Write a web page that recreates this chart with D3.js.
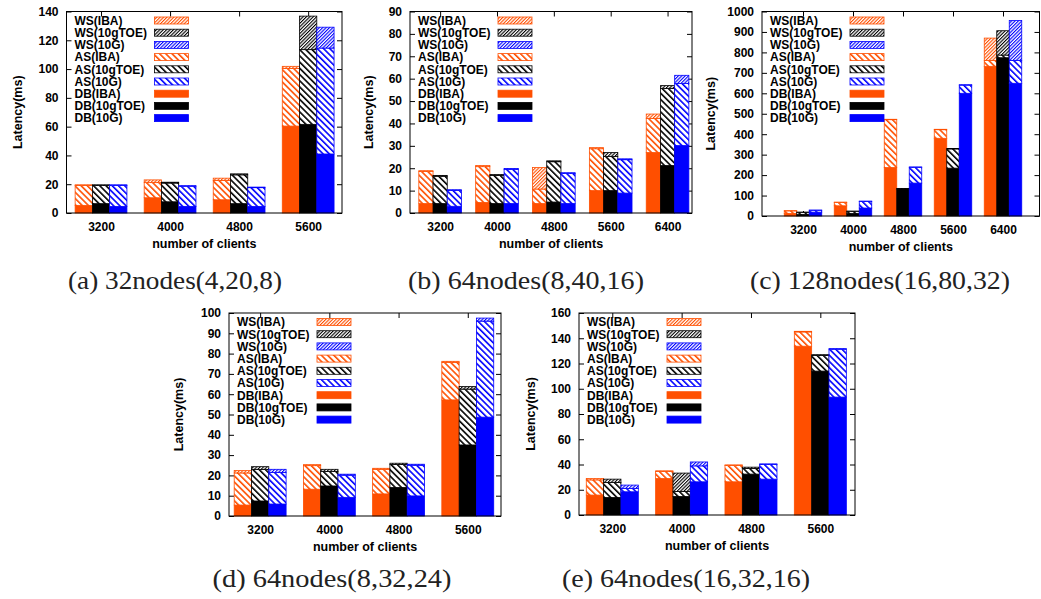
<!DOCTYPE html>
<html>
<head>
<meta charset="utf-8">
<script src="https://cdn.jsdelivr.net/npm/d3@7/dist/d3.min.js"></script>
<style>
body { margin: 0; background: #fff; }
svg text { font-family: "Liberation Sans", Arial, sans-serif; font-weight: bold; fill: #000; }
</style>
</head>
<body>
<div id="chart"></div>
<script>
var width = 1041;
var height = 599;

// networks, in bar order inside each group
var networks = ["IBA", "10gTOE", "10G"];
var colors = ["#ff4f00", "#000000", "#0000ff"];
var tiers = ["DB", "AS", "WS"];

// (a) 32nodes(4,20,8)   rows: IBA, 10gTOE, 10G
var clientsA = ["3200", "4000", "4800", "5600"];
var dbA = [[5.3, 10.6, 9.2, 60.4], [6.5, 7.8, 6.5, 61.6], [4.6, 4.6, 4.6, 41]];
var asA = [[13.8, 10.5, 13.4, 40], [12.6, 13, 20, 51.9], [14.5, 14, 13, 73.6]];
var wsA = [[0.5, 1.9, 1.6, 1.5], [0.5, 0.6, 0.7, 23.3], [0.5, 0.4, 0.4, 14.5]];

// (b) 64nodes(8,40,16)
var clientsB = ["3200", "4000", "4800", "5600", "6400"];
var dbB = [[4.2, 4.7, 4.2, 10, 27], [4.2, 4.2, 4.9, 10, 21.2], [3, 4.2, 4.2, 8.9, 30.1]];
var asB = [[14.3, 16, 6.5, 18.7, 15.2], [12.2, 12.6, 18, 15.2, 34.4], [7.1, 15.3, 13.4, 14.9, 27.7]];
var wsB = [[0.4, 0.5, 9.6, 0.5, 2], [0.4, 0.4, 0.4, 1.8, 1.3], [0.3, 0.4, 0.4, 0.4, 3.7]];

// (c) 128nodes(16,80,32)
var clientsC = ["3200", "4000", "4800", "5600", "6400"];
var dbC = [[13, 50, 237, 380, 732], [8, 13, 132, 234, 774], [19, 39, 161, 600, 649]];
var asC = [[12, 16, 234, 42, 29], [10, 10, 2, 94, 13], [9, 32, 77, 40, 112]];
var wsC = [[1, 2, 2, 2, 109], [1, 1, 1, 2, 119], [1, 2, 2, 2, 195]];

// (d) 64nodes(8,32,24)
var clientsD = ["3200", "4000", "4800", "5600"];
var dbD = [[5.4, 13.2, 10.9, 57.2], [7.4, 14.8, 14.1, 35], [5.9, 9.2, 9.9, 48.7]];
var asD = [[15.8, 11.6, 12.1, 18.5], [15.5, 7.1, 11.3, 27.5], [15.5, 10.9, 15.1, 47.3]];
var wsD = [[1.2, 0.5, 0.5, 0.5], [1.4, 1.1, 0.6, 1.3], [1.6, 0.5, 0.5, 1.5]];

// (e) 64nodes(16,32,16)
var clientsE = ["3200", "4000", "4800", "5600"];
var dbE = [[15.8, 28.9, 26.3, 133.7], [13.9, 14.7, 32.4, 114], [18.4, 26.3, 28.4, 93.4]];
var asE = [[12, 5.6, 12.9, 11.3], [11.9, 4, 4.5, 12.3], [2.6, 12.6, 11.6, 37.9]];
var wsE = [[1.1, 0.5, 0.5, 0.5], [2.6, 14.5, 1, 0.7], [2.7, 3.1, 0.5, 0.5]];

var panels = [
    {clients: clientsA, db: dbA, as: asA, ws: wsA, ymax: 140, ystep: 20,
     caption: "(a) 32nodes(4,20,8)", box: [66.5, 11.5, 342, 213], xdom: [-0.5, 3.49],
     ylabX: 17, capX: 175, capY: 289, capW: 214},
    {clients: clientsB, db: dbB, as: asB, ws: wsB, ymax: 90, ystep: 10,
     caption: "(b) 64nodes(8,40,16)", box: [410, 11.5, 692, 213], xdom: [-0.53, 4.43],
     ylabX: 368, capX: 526, capY: 289, capW: 236},
    {clients: clientsC, db: dbC, as: asC, ws: wsC, ymax: 1000, ystep: 100,
     caption: "(c) 128nodes(16,80,32)", box: [762, 11.5, 1039.5, 216], xdom: [-0.82, 4.73],
     ylabX: 710, capX: 880, capY: 289, capW: 260},
    {clients: clientsD, db: dbD, as: asD, ws: wsD, ymax: 100, ystep: 10,
     caption: "(d) 64nodes(8,32,24)", box: [229, 313, 501, 516], xdom: [-0.45, 3.48],
     ylabX: 178, capX: 332, capY: 587, capW: 239},
    {clients: clientsE, db: dbE, as: asE, ws: wsE, ymax: 160, ystep: 20,
     caption: "(e) 64nodes(16,32,16)", box: [579, 313, 855, 515], xdom: [-0.48, 3.5],
     ylabX: 530, capX: 686, capY: 587, capW: 248}
];

var svg = d3.select("#chart")
    .append("svg")
    .attr("width", width)
    .attr("height", height);

// hatch patterns: AS = wide "\\\", WS = dense "///"
var defs = svg.append("defs");
colors.forEach(function (c, i) {
    var pa = defs.append("pattern")
        .attr("id", "as" + i)
        .attr("patternUnits", "userSpaceOnUse")
        .attr("width", 4.4).attr("height", 4.4)
        .attr("patternTransform", "rotate(-45)");
    pa.append("rect").attr("width", 4.4).attr("height", 4.4).attr("fill", "#fff");
    pa.append("rect").attr("width", 1.6).attr("height", 4.4).attr("fill", c);

    var pw = defs.append("pattern")
        .attr("id", "ws" + i)
        .attr("patternUnits", "userSpaceOnUse")
        .attr("width", 2.4).attr("height", 2.4)
        .attr("patternTransform", "rotate(45)");
    pw.append("rect").attr("width", 2.4).attr("height", 2.4).attr("fill", "#fff");
    pw.append("rect").attr("width", 1.1).attr("height", 2.4).attr("fill", c);
});

function tierFill(tier, s) {
    if (tier === "DB") return colors[s];
    return "url(#" + (tier === "AS" ? "as" : "ws") + s + ")";
}

function drawPanel(p) {
    var x0 = p.box[0], y0 = p.box[1], x1 = p.box[2], y1 = p.box[3];
    var g = svg.append("g");

    var x = d3.scaleLinear().domain(p.xdom).range([x0, x1]);
    var y = d3.scaleLinear().domain([0, p.ymax]).range([y1, y0]);
    var yt = d3.range(0, p.ymax + p.ystep / 2, p.ystep);
    var idx = d3.range(p.clients.length);
    var bw = x(0.25) - x(0);

    // bottom ticks + labels (bars are drawn on top)
    var xb = g.append("g")
        .attr("transform", "translate(0," + y1 + ")")
        .call(d3.axisBottom(x).tickValues(idx).tickFormat(function (i) { return p.clients[i]; })
            .tickSize(-5).tickPadding(9));
    var xt = g.append("g")
        .attr("transform", "translate(0," + y0 + ")")
        .call(d3.axisTop(x).tickValues(idx).tickFormat("").tickSize(-5));
    var yl = g.append("g")
        .attr("transform", "translate(" + x0 + ",0)")
        .call(d3.axisLeft(y).tickValues(yt).tickFormat(d3.format("d")).tickSize(-5).tickPadding(8));
    var yr = g.append("g")
        .attr("transform", "translate(" + x1 + ",0)")
        .call(d3.axisRight(y).tickValues(yt).tickFormat("").tickSize(-5));
    [xb, xt, yl, yr].forEach(function (a) {
        a.select(".domain").remove();
        a.selectAll("line").attr("stroke", "#000").attr("stroke-width", 1);
        a.selectAll("text").style("font-size", "12px")
            .style("font-family", "'Liberation Sans', Arial, sans-serif").style("font-weight", "bold");
    });

    // stacked bars: one stack per network
    networks.forEach(function (net, s) {
        var rows = p.clients.map(function (c, i) {
            return {i: i, DB: p.db[s][i], AS: p.as[s][i], WS: p.ws[s][i]};
        });
        var stack = d3.stack().keys(tiers)(rows);
        stack.forEach(function (layer) {
            g.append("g").selectAll("rect")
                .data(layer)
                .enter().append("rect")
                .attr("x", function (d) { return x(d.data.i - 0.375 + s * 0.25); })
                .attr("width", bw)
                .attr("y", function (d) { return y(d[1]); })
                .attr("height", function (d) { return y(d[0]) - y(d[1]); })
                .attr("fill", tierFill(layer.key, s))
                .attr("stroke", colors[s])
                .attr("stroke-width", 0.8);
        });
    });

    // frame
    g.append("rect")
        .attr("x", x0).attr("y", y0)
        .attr("width", x1 - x0).attr("height", y1 - y0)
        .attr("fill", "none").attr("stroke", "#000").attr("stroke-width", 1);

    // legend
    var entries = [];
    ["WS", "AS", "DB"].forEach(function (t) {
        networks.forEach(function (n, s) { entries.push({tier: t, s: s, label: t + "(" + n + ")"}); });
    });
    var leg = g.append("g").selectAll("g")
        .data(entries)
        .enter().append("g")
        .attr("transform", function (d, k) { return "translate(0," + (y0 + 9 + k * 12.2) + ")"; });
    leg.append("text")
        .attr("x", x0 + 8).attr("dy", "0.36em")
        .style("font-size", "12px")
        .text(function (d) { return d.label; });
    leg.append("rect")
        .attr("x", x0 + 88).attr("y", -3.5)
        .attr("width", 34).attr("height", 7)
        .attr("fill", function (d) { return tierFill(d.tier, d.s); })
        .attr("stroke", function (d) { return colors[d.s]; })
        .attr("stroke-width", 0.8);

    // axis titles
    g.append("text")
        .attr("x", (x0 + x1) / 2).attr("y", y1 + 30).attr("dy", "0.36em")
        .attr("text-anchor", "middle").style("font-size", "12.5px")
        .text("number of clients");
    g.append("text")
        .attr("transform", "translate(" + p.ylabX + "," + ((y0 + y1) / 2) + ") rotate(-90)")
        .attr("dy", "0.36em").attr("text-anchor", "middle").style("font-size", "12.5px")
        .text("Latency(ms)");

    // caption
    g.append("text")
        .attr("x", p.capX - p.capW / 2).attr("y", p.capY)
        .attr("textLength", p.capW).attr("lengthAdjust", "spacingAndGlyphs")
        .style("font-family", "'Liberation Serif', 'Times New Roman', serif")
        .style("font-weight", "normal")
        .style("font-size", "25px").style("fill", "#222")
        .text(p.caption);
}

panels.forEach(drawPanel);
</script>
</body>
</html>
